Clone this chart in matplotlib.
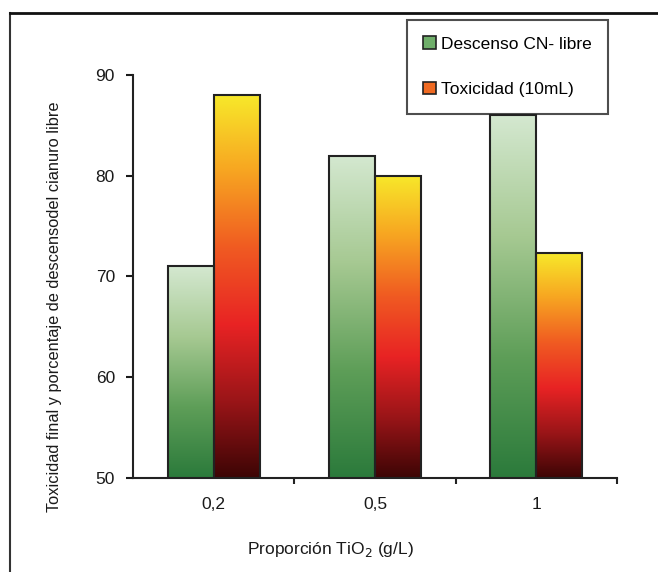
import matplotlib
matplotlib.use("Agg")
import matplotlib.pyplot as plt
import numpy as np
from matplotlib.colors import LinearSegmentedColormap
from matplotlib.patches import Patch
from matplotlib.lines import Line2D

# data
categorias = ['0,2', '0,5', '1']
descenso_cn = [71, 82, 86]
toxicidad = [88, 80, 72.3]

plt.rcParams['font.family'] = ['Liberation Sans', 'DejaVu Sans']

verde = LinearSegmentedColormap.from_list('verde', ['#2b7a3b', '#5e9e58', '#a6c992', '#d4e8d0'])
naranja = LinearSegmentedColormap.from_list('naranja', ['#3d0505', '#9a1518', '#e82324', '#f05a22', '#f7a421', '#f7e82a'])

fig = plt.figure(figsize=(6.58, 5.72), dpi=100)
ax = fig.add_axes([133/658, 1-478/572, (617-133)/658, (478-75)/572])

x = np.arange(len(categorias))
w = 0.285
grad = np.linspace(0, 1, 256).reshape(-1, 1)

def barras(xs, vals, cmap):
    bars = ax.bar(xs, vals, w, bottom=0, color='none', edgecolor='#222222', linewidth=1.5, zorder=3)
    for b in bars:
        x0 = b.get_x()
        h = b.get_height()
        im = ax.imshow(grad, cmap=cmap, origin='lower', aspect='auto',
                       extent=[x0, x0+w, 50, h], zorder=2)
        im.set_clip_path(b)
    return bars

barras(x - w/2, descenso_cn, verde)
barras(x + w/2, toxicidad, naranja)

ax.set_xlim(-0.5, 2.5)
ax.set_ylim(50, 90)
ax.set_yticks([50, 60, 70, 80, 90])
ax.set_xticks(x)
ax.set_xticklabels(categorias)
ax.set_xticks([0.5, 1.5, 2.5], minor=True)
ax.tick_params(axis='x', which='major', length=0, pad=14, labelsize=12.5, colors='#1a1a1a')
ax.tick_params(axis='x', which='minor', length=4, width=1.5, direction='out', color='#222222')
ax.tick_params(axis='y', length=5, width=1.5, direction='out', pad=8, labelsize=12.5, colors='#1a1a1a')
for s in ['top', 'right']:
    ax.spines[s].set_visible(False)
for s in ['left', 'bottom']:
    ax.spines[s].set_linewidth(1.5)
    ax.spines[s].set_color('#222222')

ax.set_xlabel('Proporción TiO$_2$ (g/L)', fontsize=12.5, color='#1a1a1a')
ax.xaxis.set_label_coords((330-133)/484, -(540-478)/403)
ax.set_ylabel('Toxicidad final y porcentaje de descensodel cianuro libre', fontsize=11.8, color='#1a1a1a')
ax.yaxis.set_label_coords(-(133-62)/484, (478-307)/403)

handles = [Patch(facecolor='#6fae6a', edgecolor='#222222', linewidth=1.2),
           Patch(facecolor='#f06a22', edgecolor='#222222', linewidth=1.2)]
leg = fig.legend(handles, ['Descenso CN- libre', 'Toxicidad (10mL)'],
                 loc='upper left', bbox_to_anchor=(407/658, 1-20/572),
                 frameon=True, fancybox=False, fontsize=12.5, handlelength=0.7,
                 handleheight=0.7, handletextpad=0.3, labelspacing=1.75,
                 borderpad=0.95, borderaxespad=0)
leg.get_frame().set_edgecolor('#222222')
leg.get_frame().set_linewidth(1.5)

# marco exterior
fig.add_artist(Line2D([10/658, 10/658], [0, 1-13/572], color='#333333', linewidth=1.5))
fig.add_artist(Line2D([10/658, 1], [1-13/572, 1-13/572], color='#111111', linewidth=2))

fig.savefig('out.png', dpi=100)
